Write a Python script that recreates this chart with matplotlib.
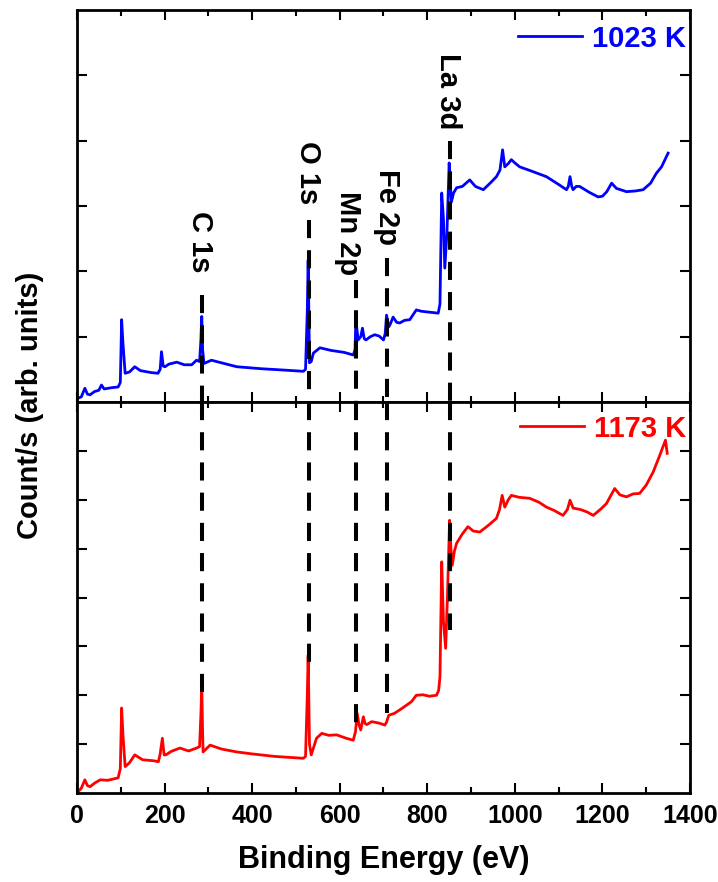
import numpy as np
import matplotlib
matplotlib.use('Agg')
import matplotlib.pyplot as plt
from matplotlib.ticker import MultipleLocator

plt.rcParams['font.family'] = ['Liberation Sans', 'DejaVu Sans']
plt.rcParams['font.weight'] = 'bold'

# XPS survey spectra (arbitrary units)
energy_1023 = [0, 10, 18, 24, 30, 40, 50, 56, 62, 80, 94, 99, 102, 105, 110, 120, 132, 145, 170, 185,
               190, 193, 197, 201, 210, 228, 245, 262, 273, 280, 283, 285, 287, 290, 307, 330, 365, 420,
               470, 517, 522, 526, 528, 531, 535, 540, 555, 580, 610, 631, 635, 637, 642, 648, 652, 656,
               660, 670, 680, 690, 700, 704, 707, 712, 716, 722, 730, 737, 748, 760, 775, 786, 798, 812,
               825, 829, 833, 837, 840, 845, 850, 853, 855, 860, 867, 880, 897, 910, 928, 945, 958, 966,
               972, 977, 985, 992, 1000, 1011, 1040, 1072, 1100, 1118, 1122, 1126, 1130, 1133, 1140,
               1148, 1170, 1190, 1200, 1210, 1221, 1232, 1255, 1275, 1293, 1310, 1323, 1335, 1350]
counts_1023 = [0.05, 0.08, 0.21, 0.12, 0.11, 0.16, 0.18, 0.26, 0.20, 0.22, 0.23, 0.30, 1.26, 0.90, 0.44,
               0.46, 0.54, 0.48, 0.45, 0.44, 0.50, 0.77, 0.55, 0.54, 0.58, 0.61, 0.57, 0.57, 0.64, 0.62,
               0.95, 1.31, 0.80, 0.59, 0.64, 0.60, 0.54, 0.51, 0.49, 0.47, 0.50, 1.40, 2.17, 0.60, 0.62,
               0.75, 0.83, 0.79, 0.76, 0.72, 0.80, 1.26, 0.95, 1.00, 1.13, 0.97, 0.95, 1.00, 1.03, 1.01,
               0.95, 1.05, 1.33, 1.15, 1.20, 1.30, 1.22, 1.21, 1.25, 1.26, 1.41, 1.39, 1.38, 1.37, 1.36,
               1.50, 3.20, 2.80, 2.05, 2.60, 3.66, 3.30, 3.06, 3.20, 3.28, 3.30, 3.40, 3.30, 3.25, 3.36,
               3.45, 3.55, 3.86, 3.60, 3.65, 3.71, 3.66, 3.60, 3.53, 3.45, 3.33, 3.25, 3.30, 3.45, 3.30,
               3.25, 3.30, 3.30, 3.21, 3.14, 3.15, 3.22, 3.35, 3.27, 3.22, 3.23, 3.25, 3.35, 3.50, 3.60,
               3.81]

energy_1173 = [0, 10, 18, 24, 30, 40, 53, 70, 94, 99, 102, 105, 110, 120, 132, 150, 175, 186, 190, 195,
               199, 203, 215, 235, 255, 273, 280, 283, 285, 287, 288, 304, 330, 365, 400, 450, 517, 522,
               526, 528, 531, 535, 547, 559, 575, 593, 615, 631, 636, 640, 644, 648, 654, 658, 662, 673,
               690, 703, 707, 712, 725, 737, 750, 764, 775, 790, 805, 821, 826, 829, 833, 837, 842, 846,
               851, 854, 857, 862, 867, 880, 893, 905, 920, 940, 958, 965, 971, 977, 985, 992, 1010,
               1034, 1055, 1072, 1090, 1110, 1120, 1126, 1133, 1150, 1165, 1179, 1195, 1209, 1220, 1228,
               1240, 1255, 1270, 1285, 1300, 1316, 1331, 1344, 1348]
counts_1173 = [0.00, 0.10, 0.27, 0.15, 0.13, 0.20, 0.27, 0.26, 0.31, 0.50, 1.74, 1.20, 0.54, 0.62, 0.78,
               0.68, 0.66, 0.64, 0.80, 1.12, 0.78, 0.78, 0.85, 0.92, 0.86, 0.92, 0.95, 1.60, 2.21, 1.20,
               0.84, 0.98, 0.90, 0.84, 0.80, 0.75, 0.71, 0.75, 2.00, 2.82, 1.00, 0.78, 1.12, 1.22, 1.18,
               1.19, 1.12, 1.08, 1.25, 1.63, 1.40, 1.29, 1.56, 1.42, 1.40, 1.46, 1.43, 1.39, 1.45, 1.59,
               1.63, 1.70, 1.78, 1.87, 2.00, 2.01, 1.98, 2.00, 2.10, 2.38, 4.73, 3.50, 2.96, 4.00, 5.58,
               5.00, 4.66, 4.95, 5.11, 5.30, 5.45, 5.36, 5.34, 5.48, 5.62, 5.80, 6.09, 5.85, 6.00, 6.09,
               6.05, 6.03, 5.95, 5.85, 5.78, 5.68, 5.80, 5.99, 5.83, 5.80, 5.75, 5.68, 5.80, 5.92, 6.10,
               6.23, 6.10, 6.06, 6.12, 6.13, 6.30, 6.57, 6.91, 7.22, 6.95]

# peak assignments
peak_names = ['C 1s', 'O 1s', 'Mn 2p', 'Fe 2p', 'La 3d']
peak_pos = [286, 530, 638, 707, 852]
label_x = [280, 528, 620, 707, 848]
label_y = [1.99, 3.02, 1.94, 2.40, 4.17]      # top-panel units
dash_top = [1.64, 2.79, 1.87, 2.20, 4.00]     # top-panel units
dash_bottom = [1.96, 2.66, 1.33, 1.64, 3.33]  # bottom-panel units

fig = plt.figure(figsize=(7.18, 8.82), dpi=100)
ax1 = fig.add_axes([0.1072, 0.5442, 0.8538, 0.4444])
ax2 = fig.add_axes([0.1072, 0.1009, 0.8538, 0.4433], sharex=ax1)

ax1.plot(energy_1023, counts_1023, color='#0000ff', lw=2, label='1023 K')
ax2.plot(energy_1173, counts_1173, color='#ff0000', lw=2, label='1173 K')

ax1.set_ylim(0, 6)
ax2.set_ylim(0, 8)
ax1.set_yticks(np.arange(1, 6))
ax2.set_yticks(np.arange(1, 8))
ax2.set_xlim(0, 1400)
ax2.xaxis.set_major_locator(MultipleLocator(200))
ax2.xaxis.set_minor_locator(MultipleLocator(100))

for ax in (ax1, ax2):
    ax.tick_params(which='both', direction='in', top=True, right=True, width=1.5)
    ax.tick_params(which='major', length=7)
    ax.tick_params(which='minor', length=4)
    ax.tick_params(axis='y', labelleft=False)
    for s in ax.spines.values():
        s.set_linewidth(2)
ax1.tick_params(axis='x', labelbottom=False)
ax2.tick_params(axis='x', labelsize=18, pad=8)

for px, lx, ly, t, b, name in zip(peak_pos, label_x, label_y, dash_top, dash_bottom, peak_names):
    ax1.plot([px, px], [t, 0], color='black', lw=2.9, dashes=(4.5, 3))
    ax2.plot([px, px], [8, b], color='black', lw=2.9, dashes=(4.5, 3))
    ax1.text(lx, ly, name, rotation=270, ha='center', va='bottom', fontsize=21, fontweight='bold')

for ax, ytop in ((ax1, 0.985), (ax2, 0.99)):
    ax.legend(loc='upper right', bbox_to_anchor=(1.008, ytop), frameon=False, handlelength=2.2,
              handletextpad=0.35, borderaxespad=0.1, borderpad=0.2, labelcolor='linecolor',
              prop={'weight': 'bold', 'size': 21})

ax2.set_xlabel('Binding Energy (eV)', fontsize=22, fontweight='bold', labelpad=12)
fig.text(0.042, 1 - 405 / 882, 'Count/s (arb. units)', rotation=90, ha='center', va='center',
         fontsize=21, fontweight='bold')

fig.savefig('out.png', dpi=100)
